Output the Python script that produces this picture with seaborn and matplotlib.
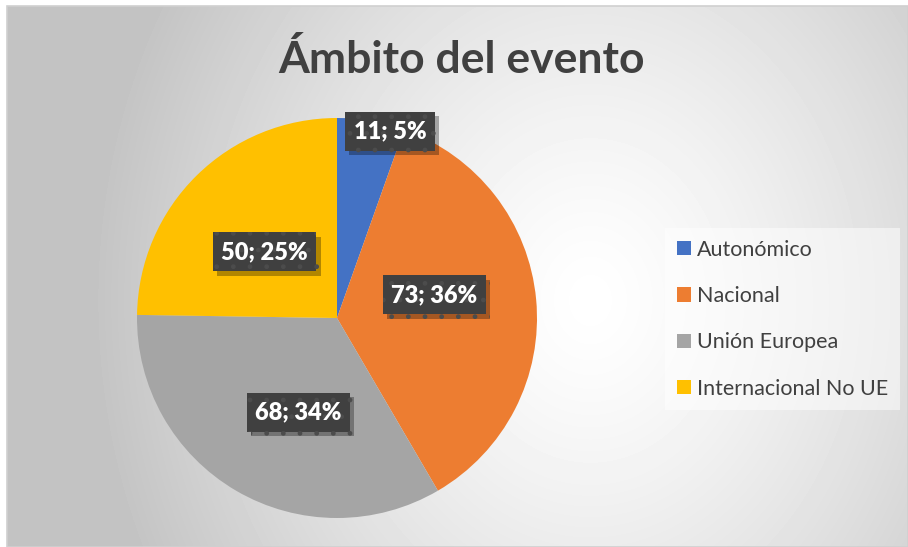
import numpy as np
import matplotlib
matplotlib.use("Agg")
import matplotlib.pyplot as plt
import matplotlib.patheffects as pe
from matplotlib.patches import Patch, Rectangle
import seaborn as sns

# ---- data ----
categories = ["Autonómico", "Nacional", "Unión Europea", "Internacional No UE"]
values = [11, 73, 68, 50]
title = "Ámbito del evento"

# ---- style / layout ----
colors = ["#4472C4", "#ED7D31", "#A5A5A5", "#FFC000"]
label_radius = [0.97, 0.50, 0.51, 0.49]
label_angle_adjust = [-6, 8, 8, 3]
text_color = "#404040"

sns.set_theme(style="white")
plt.rcParams['font.family'] = ['Lato', 'DejaVu Sans']

W, H = 908, 547
fig = plt.figure(figsize=(W / 100, H / 100), dpi=100)
fig.patch.set_facecolor('white')

# background radial gradient of chart area
x0, y0 = 7, 6
bg = fig.add_axes([x0 / W, 0, (W - x0) / W, (H - y0) / H])
yy, xx = np.mgrid[y0:H, x0:W]
d = np.hypot((xx - 590) * 1.2, yy - 300)
v = 255 - 60 * np.clip(d / 600, 0, 1) ** 1.3
bg.imshow(v, cmap='gray', vmin=0, vmax=255, extent=[x0, W, H, y0],
          aspect='auto', interpolation='bilinear')
bg.set_xlim(x0, W)
bg.set_ylim(H, y0)
bg.set_axis_off()
fig.patches.append(Rectangle((x0 / W, 0), (W - x0) / W, (H - y0) / H,
                             transform=fig.transFigure, fill=False,
                             edgecolor='#d0d0d0', linewidth=1.2, zorder=5))

# pie
R = 200
cx, cy = 337, 318
ax = fig.add_axes([(cx - R) / W, (H - cy - R) / H, 2 * R / W, 2 * R / H])
wedges, _ = ax.pie(values, colors=colors, startangle=90, counterclock=False,
                   radius=1, wedgeprops=dict(linewidth=0))
ax.set_xlim(-1, 1)
ax.set_ylim(-1, 1)
ax.set_aspect('auto')
ax.set_axis_off()

total = sum(values)
for w, val, r, da in zip(wedges, values, label_radius, label_angle_adjust):
    theta = np.deg2rad((w.theta1 + w.theta2) / 2 + da)
    x, y = r * np.cos(theta), r * np.sin(theta)
    txt = f"{val}; {round(100 * val / total)}%"
    t = ax.text(x, y, txt, ha='center', va='center', fontsize=17, fontweight='heavy',
                color='white',
                bbox=dict(boxstyle='square,pad=0.36', facecolor='#404040',
                          edgecolor='#4c4c4c', linewidth=0, hatch='.'), zorder=5)
    t.get_bbox_patch().set_path_effects(
        [pe.SimplePatchShadow(offset=(3, -3), shadow_rgbFace='black', alpha=0.3),
         pe.Normal()])

# title
fig.text(462 / W, 1 - 73 / H, title, ha='center', va='baseline', fontsize=32,
         fontweight='bold', color=text_color)

# legend
handles = [Patch(facecolor=c, edgecolor='none') for c in colors]
leg = fig.legend(handles, categories, loc='upper left',
                 bbox_to_anchor=(665 / W, 1 - 228 / H), frameon=True,
                 facecolor='white', framealpha=0.5, edgecolor='none',
                 fancybox=False, fontsize=15.5, handlelength=0.65, handleheight=0.65,
                 handletextpad=0.3, labelspacing=1.22, borderpad=0.55,
                 borderaxespad=0)
for t in leg.get_texts():
    t.set_color(text_color)

fig.savefig("out.png", dpi=100)
